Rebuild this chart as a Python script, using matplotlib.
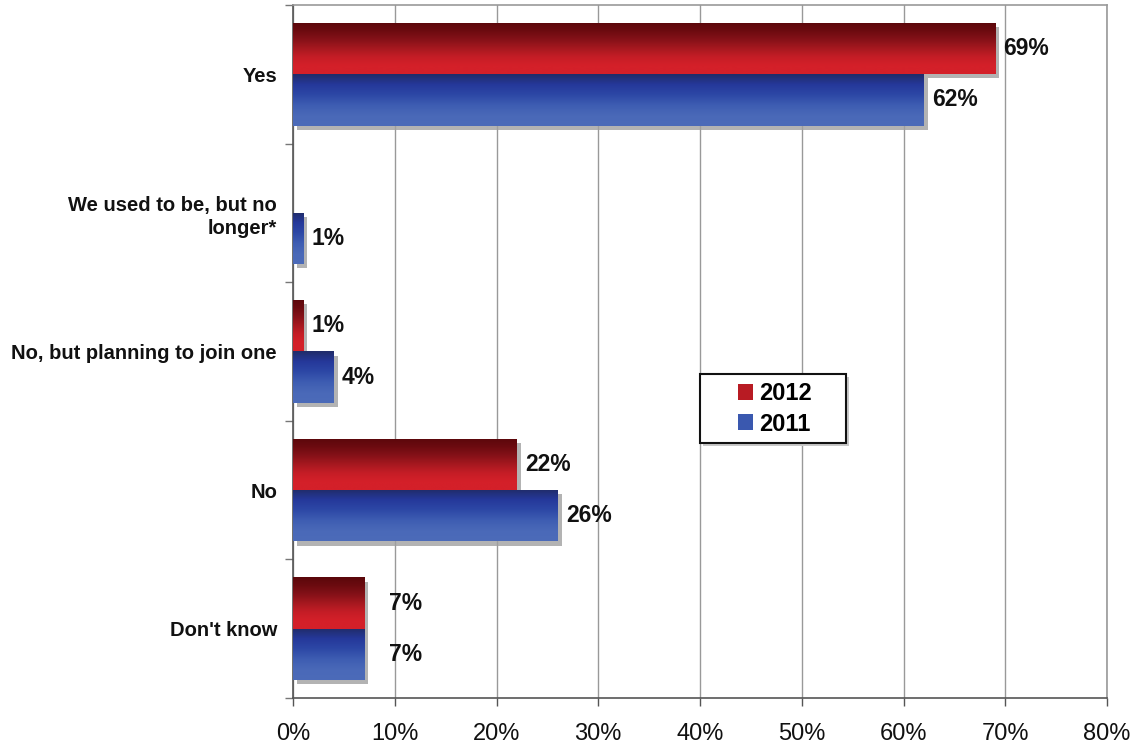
import numpy as np
import matplotlib
matplotlib.use("Agg")
import matplotlib.pyplot as plt
from matplotlib import patheffects as pe
from matplotlib.patches import Patch, Rectangle
from matplotlib.colors import LinearSegmentedColormap

plt.rcParams['font.family'] = ['Liberation Sans', 'DejaVu Sans']

categories = ["Yes", "We used to be, but no\nlonger*", "No, but planning to join one", "No", "Don't know"]
values_2012 = [69, None, 1, 22, 7]
values_2011 = [62, 1, 4, 26, 7]
series_names = ["2012", "2011"]
x_ticks = [0, 10, 20, 30, 40, 50, 60, 70, 80]
label_offsets = [6, 6, 6, 6, 18]  # points between bar end and its value label

red_stops = ["#5a070b", "#6c0b10", "#851118", "#a5181f", "#c41d26", "#d42029", "#d42029"]
blue_stops = ["#202c68", "#25389a", "#2d48a6", "#3e5db2", "#4a69b8", "#4c6bb9"]
red_cmap = LinearSegmentedColormap.from_list("red_grad", red_stops)
blue_cmap = LinearSegmentedColormap.from_list("blue_grad", blue_stops)

W, H = 1135, 746
fig = plt.figure(figsize=(W / 100, H / 100), dpi=100)
ax = fig.add_axes([293 / W, 1 - 698 / H, (1107 - 293) / W, (698 - 5) / H])

bar_h = 0.37
ypos = np.arange(len(categories))
grad = np.linspace(0, 1, 256).reshape(-1, 1)


def draw_bars(vals, shift, cmap):
    for i, v in enumerate(vals):
        if v is None:
            continue
        top = ypos[i] + shift - bar_h / 2
        bottom = ypos[i] + shift + bar_h / 2
        rect = ax.barh(ypos[i] + shift, v, height=bar_h, color=cmap(0.6), linewidth=0,
                       zorder=3)[0]
        rect.set_path_effects([pe.SimplePatchShadow(offset=(3, -3), shadow_rgbFace="#a0a0a0",
                                                    alpha=0.8), pe.Normal()])
        im = ax.imshow(grad, cmap=cmap, aspect="auto", origin="upper",
                       extent=(0, v, bottom, top), zorder=4, interpolation="bilinear")
        im.set_clip_path(rect)


draw_bars(values_2012, -bar_h / 2, red_cmap)
draw_bars(values_2011, bar_h / 2, blue_cmap)

for i in range(len(categories)):
    for v, shift in ((values_2012[i], -bar_h / 2), (values_2011[i], bar_h / 2)):
        if v is None:
            continue
        ax.annotate(f"{v}%", xy=(v, ypos[i] + shift), xytext=(label_offsets[i], 0),
                    textcoords="offset points", ha="left", va="center",
                    fontsize=16.5, fontweight="bold", color="#111111", zorder=6)

ax.set_xlim(0, 80)
ax.set_ylim(len(categories) - 0.5, -0.5)

ax.set_xticks(x_ticks)
ax.set_xticklabels([f"{t}%" for t in x_ticks], fontsize=17, color="#111111")
ax.tick_params(axis="x", length=6, width=1, color="#555555", pad=12)

ax.set_yticks(np.arange(-0.5, len(categories), 1.0))
ax.set_yticklabels([])
ax.tick_params(axis="y", which="major", length=6, width=1, color="#777777")
ax.set_yticks(ypos, minor=True)
ax.set_yticklabels(categories, minor=True, fontsize=14.5, fontweight="bold",
                   ha="right", ma="right", color="#111111", linespacing=1.25)
ax.tick_params(axis="y", which="minor", length=0, pad=11.5)

ax.grid(axis="x", color="#999999", linewidth=1, zorder=0)
ax.set_axisbelow(True)
for s in ("top", "right"):
    ax.spines[s].set_color("#999999")
    ax.spines[s].set_linewidth(1.2)
for s in ("left", "bottom"):
    ax.spines[s].set_color("#555555")
    ax.spines[s].set_linewidth(1.2)

# legend box with drop shadow, entries centred inside
bx0, by0, bx1, by1 = 700, 374, 846, 443
fig.add_artist(Rectangle(((bx0 + 3) / W, 1 - (by1 + 3) / H), (bx1 - bx0) / W, (by1 - by0) / H,
                         transform=fig.transFigure, facecolor="#c8c8c8", edgecolor="none",
                         zorder=8))
fig.add_artist(Rectangle((bx0 / W, 1 - by1 / H), (bx1 - bx0) / W, (by1 - by0) / H,
                         transform=fig.transFigure, facecolor="white", edgecolor="#111111",
                         linewidth=1.5, zorder=9))
handles = [Patch(facecolor=red_cmap(0.6), edgecolor="none"),
           Patch(facecolor=blue_cmap(0.55), edgecolor="none")]
leg = fig.legend(handles, series_names, loc="center",
                 bbox_to_anchor=(775 / W, 1 - 409 / H),
                 prop={"size": 17, "weight": "bold"}, frameon=False,
                 handlelength=0.65, handleheight=0.65, handletextpad=0.25,
                 borderpad=0, labelspacing=0.3)
leg.set_zorder(10)

fig.savefig("out.png", dpi=100, facecolor="white")
